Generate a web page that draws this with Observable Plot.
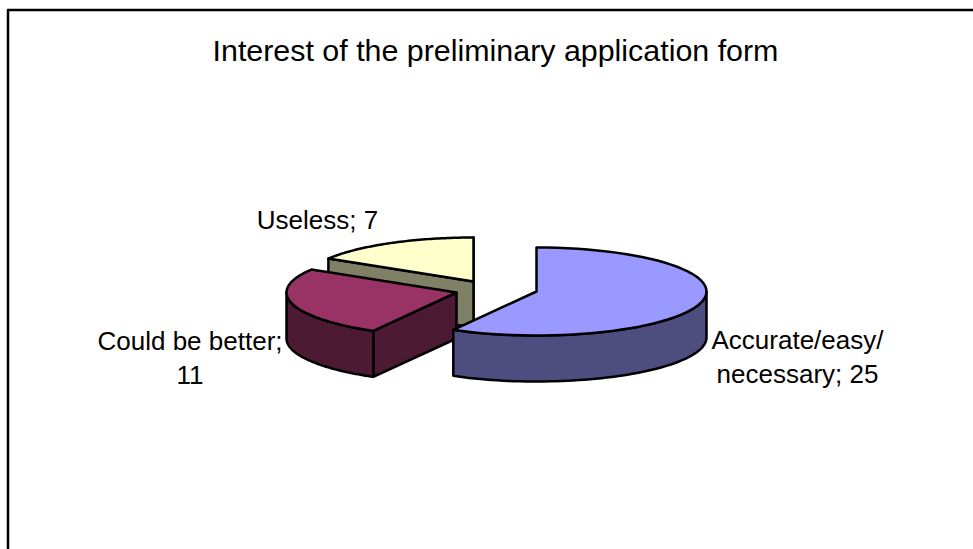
<!DOCTYPE html>
<html><head><meta charset="utf-8">
<script src="https://cdn.jsdelivr.net/npm/d3@7"></script>
<script src="https://cdn.jsdelivr.net/npm/@observablehq/plot@0.6"></script>
<style>html,body{margin:0;padding:0;background:#fff}svg{display:block}</style>
</head><body><div id="chart"></div>
<script>
const categories = ["Accurate/easy/necessary", "Could be better", "Useless"];
const values = [25, 11, 7];
const topColors = ["#9999FF", "#993366", "#FFFFCC"];
const sideColors = ["#4D4D80", "#4D1A33", "#808066"];
const titleText = "Interest of the preliminary application form";
const labelTexts = ["Accurate/easy/\nnecessary; 25", "Could be better;\n11", "Useless; 7"];

// pie layout (chart space equals the picture's pixel space)
const W = 973, H = 549;
const centres = [[536, 291], [456, 292], [473, 281]];
const rx = 170, ry = 44, depth = 46;
const labelAt = [[797, 354.5], [189.5, 356], [317, 217.5]];

const total = d3.sum(values);
const ends = Array.from(d3.cumsum(values), v => v / total * 2 * Math.PI);
const starts = ends.map((_, i) => i ? ends[i - 1] : 0);

const pt = (i, a, dy = 0) => ({x: centres[i][0] + rx * Math.sin(a), y: centres[i][1] - ry * Math.cos(a) + dy});
const arc = (i, a0, a1, dy = 0) => d3.range(0, 61).map(k => pt(i, a0 + (a1 - a0) * k / 60, dy));
const apex = (i, dy = 0) => ({x: centres[i][0], y: centres[i][1] + dy});

const topFace = i => [apex(i), ...arc(i, starts[i], ends[i])];
const rim = (i, a0, a1) => [...arc(i, a0, a1), ...arc(i, a1, a0, depth)];
const face = (i, a) => [apex(i), pt(i, a), pt(i, a, depth), apex(i, depth)];

const sw = 2.5;
const poly = (pts, fill) => Plot.line(pts, {x: "x", y: "y", fill, stroke: "black", strokeWidth: sw, curve: "linear-closed", strokeLinejoin: "round"});

const [B, R, Y] = [0, 1, 2];
const marks = [
  // yellow slice, back to front
  poly(face(Y, ends[Y]), sideColors[Y]),
  poly(face(Y, starts[Y]), sideColors[Y]),
  poly(topFace(Y), topColors[Y]),
  // red slice
  poly(face(R, starts[R]), sideColors[R]),
  poly(rim(R, starts[R], 1.5 * Math.PI), sideColors[R]),
  poly(topFace(R), topColors[R]),
  // blue slice
  poly(rim(B, Math.PI / 2, ends[B]), sideColors[B]),
  poly(topFace(B), topColors[B]),
  // frame
  Plot.line([{x: 7.5, y: H}, {x: 7.5, y: 9.5}, {x: W, y: 9.5}], {x: "x", y: "y", stroke: "black", strokeWidth: sw}),
  Plot.text([titleText], {x: () => 495, y: () => 51, text: d => d, fontSize: 30.4, fill: "black"}),
  Plot.text(labelTexts, {x: (_, i) => labelAt[i][0], y: (_, i) => labelAt[i][1], text: d => d, fontSize: 26, lineHeight: 1.31, fill: "black"})
];

const chart = Plot.plot({
  width: W, height: H, margin: 0,
  style: {fontFamily: "'Liberation Sans', Arial, sans-serif", background: "white"},
  x: {domain: [0, W], range: [0, W], axis: null},
  y: {domain: [0, H], range: [0, H], axis: null},
  marks
});
document.getElementById("chart").append(chart);
</script></body></html>
